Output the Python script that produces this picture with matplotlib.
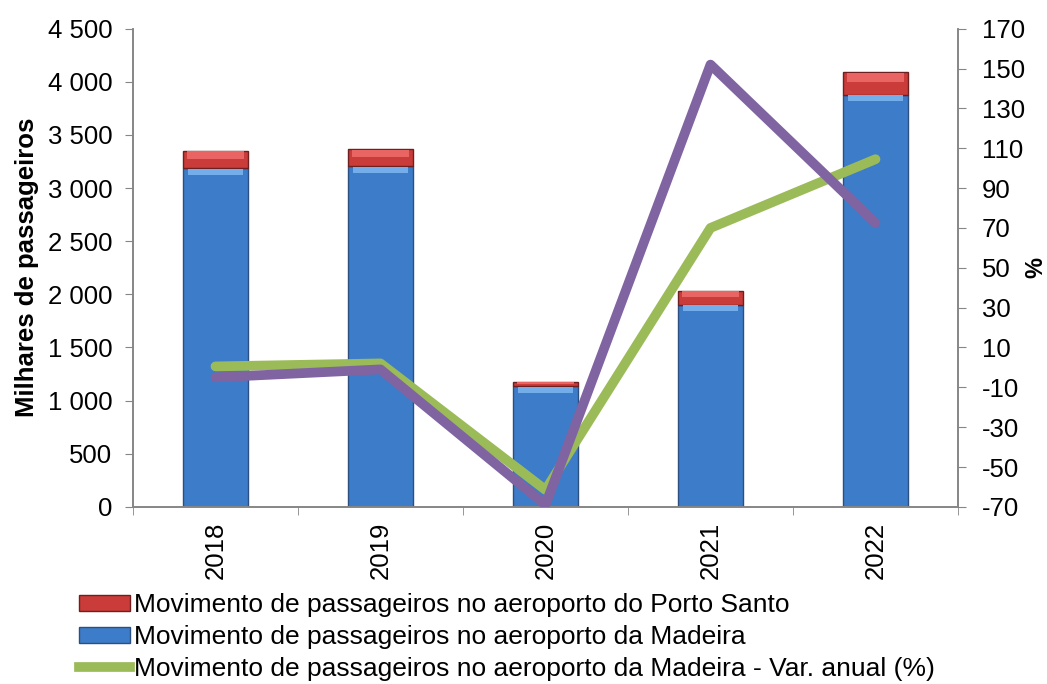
import numpy as np
import matplotlib.pyplot as plt
from matplotlib.patches import Patch
from matplotlib.lines import Line2D

plt.rcParams['font.family'] = ['Liberation Sans', 'DejaVu Sans']
plt.rcParams['axes.unicode_minus'] = False

years = ['2018', '2019', '2020', '2021', '2022']
madeira = [3185, 3205, 1133, 1902, 3880]
porto_santo = [168, 166, 44, 132, 213]
var_madeira = [0.5, 2.0, -61.5, 70.0, 104.5]
var_porto_santo = [-5.0, -1.0, -69.0, 152.0, 72.5]

lbl_ps = 'Movimento de passageiros no aeroporto do Porto Santo'
lbl_ma = 'Movimento de passageiros no aeroporto da Madeira'
lbl_var = 'Movimento de passageiros no aeroporto da Madeira - Var. anual (%)'

blue = '#3d7cc9'
red = '#c93c3a'
green = '#9bbb59'
purple = '#8064a2'
grey = '#868686'
fs = 18.5

fig = plt.figure(figsize=(10.47, 6.84), dpi=100)
ax = fig.add_axes([0.127, 0.259, 0.788, 0.699])
ax2 = ax.twinx()

x = np.arange(len(years))
w = 0.39
mad = np.array(madeira)
ps = np.array(porto_santo)
ax.bar(x, mad, w, color=blue, edgecolor='#2a4f80', linewidth=1.0, zorder=2)
ax.bar(x, ps, w, bottom=mad, color=red, edgecolor='#6e1f1f', linewidth=1.0, zorder=2)
# rough bevel highlights
ax.bar(x, 55, w * 0.86, bottom=mad - 60, color='#74aeea', linewidth=0, zorder=3)
ax.bar(x, ps * 0.4, w * 0.9, bottom=mad + ps * 0.55, color='#e86563', linewidth=0, zorder=3)

ax2.plot(x, var_madeira, color=green, lw=7, solid_capstyle='round',
         solid_joinstyle='round', zorder=4)
ax2.plot(x, var_porto_santo, color=purple, lw=7, solid_capstyle='round',
         solid_joinstyle='round', zorder=5)

ax.set_xlim(-0.5, len(years) - 0.5)
ax.set_ylim(0, 4500)
ax.set_yticks(np.arange(0, 4501, 500))
ax.set_yticklabels([f'{v:,}'.replace(',', ' ') for v in range(0, 4501, 500)])
ax2.set_ylim(-70, 170)
ax2.set_yticks(np.arange(-70, 171, 20))

ax.set_xticks(x)
ax.set_xticklabels(years, rotation=90)
ax.set_xticks(np.arange(-0.5, len(years), 1), minor=True)
ax.tick_params(axis='x', which='major', length=0, pad=11, labelsize=fs)
ax.tick_params(axis='x', which='minor', length=6, color=grey)
ax.tick_params(axis='y', length=6, color=grey, labelsize=fs, pad=9)
ax2.tick_params(axis='y', length=6, color=grey, labelsize=fs, pad=11)

for a in (ax, ax2):
    a.spines['top'].set_visible(False)
    for s in ('left', 'right', 'bottom'):
        a.spines[s].set_color(grey)
        a.spines[s].set_linewidth(1.2)

ax.set_ylabel('Milhares de passageiros', fontsize=fs, fontweight='bold', labelpad=6)
ax2.set_ylabel('%', fontsize=17, fontweight='bold', labelpad=0)

handles = [Patch(facecolor=red, edgecolor='#6e1f1f'),
           Patch(facecolor=blue, edgecolor='#2a4f80'),
           Line2D([0], [0], color=green, lw=7)]
fig.legend(handles, [lbl_ps, lbl_ma, lbl_var], loc='upper left',
           bbox_to_anchor=(0.075, 0.133), frameon=False, fontsize=19,
           handlelength=1.95, handleheight=0.55, handletextpad=0.15,
           labelspacing=0.3, borderaxespad=0, borderpad=0)

fig.savefig('out.png', dpi=100)
